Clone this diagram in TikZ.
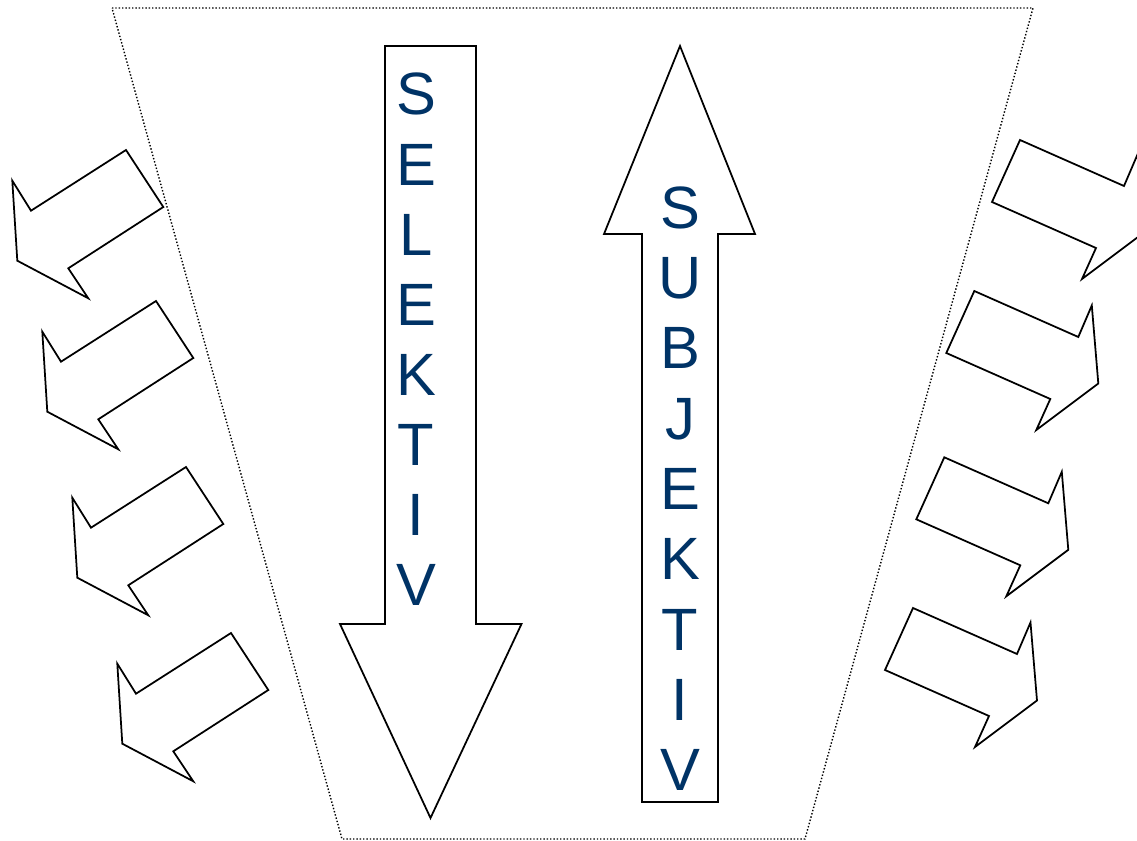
\documentclass[tikz,border=0pt]{standalone}
\usepackage{fontspec}
\setmainfont{Liberation Sans}
\definecolor{navy}{RGB}{0,51,102}
\begin{document}
\begin{tikzpicture}[x=0.02cm,y=-0.02cm,
    outline/.style={draw=black,line width=1pt,line join=miter,fill=white},
    rim/.style={draw=black,line width=0.8pt,dash pattern=on 0.8pt off 1.1pt},
    letter/.style={text=navy,font=\fontsize{34}{40}\selectfont,anchor=base,inner sep=0pt}]
\useasboundingbox (0,0) rectangle (1137,841);
\clip (0,0) rectangle (1137,841);
\draw[rim](112,8)--(1033,8)--(805,839)--(342,839)--cycle;
\begin{scope}
    \draw[outline](385,46)--(476,46)--(476,624)--(521.5,624)--(430.5,818)--(340,624)--(385,624)--cycle;
    \foreach \ch [count=\i] in {S,E,L,E,K,T,I,V}
        \node[letter] (sel\i) at (416,{115+70.1*(\i-1)}) {\ch};
\end{scope}
\begin{scope}
    \draw[outline](680,46)--(755,234)--(718,234)--(718,802)--(642,802)--(642,234)--(604,234)--cycle;
    \foreach \ch [count=\i] in {S,U,B,J,E,K,T,I,V}
        \node[letter] (sub\i) at (680,{228.3+70.3*(\i-1)}) {\ch};
\end{scope}
\foreach \dx/\dy in {0/0,30/151,60/317,105/483}
    \draw[outline,shift={(\dx,\dy)}](126,150)--(163.3,207)--(68.3,268.3)--(88.3,298.3)--(17.3,260.7)--(12.3,180.7)--(31,210.7)--cycle;
\foreach \dx/\dy in {0/0,-45.7/151,-75.7/317.3,-107/468}
    \draw[outline,shift={(\dx,\dy)}](1020,140)--(1124,186)--(1137.5,154.5)--(1144,232.5)--(1082,279)--(1096,248)--(992,202)--cycle;
\end{tikzpicture}
\end{document}
